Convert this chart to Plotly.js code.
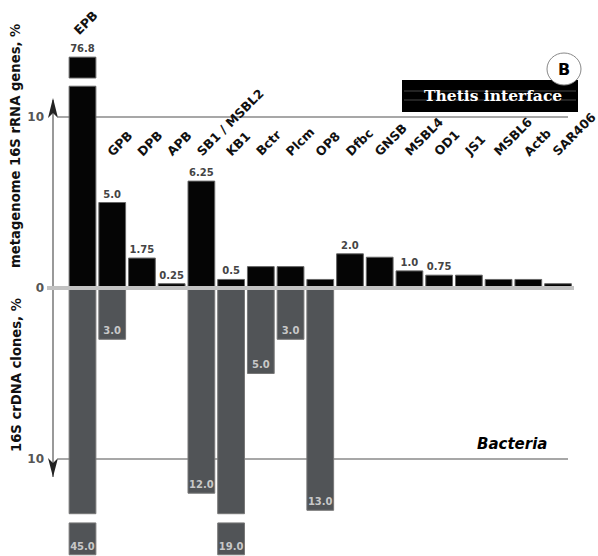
<!DOCTYPE html>
<html>
<head>
<meta charset="utf-8">
<script src="https://cdn.plot.ly/plotly-3.0.1.min.js"></script>
<style>html,body{margin:0;padding:0;background:#fff;}#chart{width:598px;height:556px;}</style>
</head>
<body>
<div id="chart"></div>
<script>
// ---- data ----
const categories = ['EPB','GPB','DPB','APB','SB1 / MSBL2','KB1','Bctr','Plcm','OP8','Dfbc','GNSB','MSBL4','OD1','JS1','MSBL6','Actb','SAR406'];
const metagenome = [76.8, 5.0, 1.75, 0.25, 6.25, 0.5, 1.25, 1.25, 0.5, 2.0, 1.8, 1.0, 0.75, 0.75, 0.5, 0.5, 0.25];
const clones = [45.0, 3.0, 0, 0, 12.0, 19.0, 5.0, 3.0, 13.0, 0, 0, 0, 0, 0, 0, 0, 0];
const metagenomeLabels = ['76.8','5.0','1.75','0.25','6.25','0.5','','','','2.0','','1.0','0.75','','','',''];
const clonesLabels = ['45.0','3.0','','','12.0','19.0','5.0','3.0','13.0','','','','','','','',''];
const yTickVals = [10, 0, -10];
const yTickText = ['10', '0', '10'];

// ---- broken-axis display (values beyond the limits are drawn cut) ----
const POS_LIMIT = 10, POS_MAIN = 11.8, POS_CAP = [12.28, 13.5];
const NEG_LIMIT = 15, NEG_MAIN = 13.2, NEG_CAP = [13.74, 15.6];

const posMain = metagenome.map(v => v > POS_LIMIT ? POS_MAIN : v);
const posMainText = metagenome.map((v, i) => v > POS_LIMIT ? '' : metagenomeLabels[i]);
const posCapBase = metagenome.map(v => v > POS_LIMIT ? POS_CAP[0] : null);
const posCap = metagenome.map(v => v > POS_LIMIT ? POS_CAP[1] - POS_CAP[0] : null);
const posCapText = metagenome.map((v, i) => v > POS_LIMIT ? metagenomeLabels[i] : '');

const negMain = clones.map(v => v > NEG_LIMIT ? -NEG_MAIN : (v ? -v : null));
const negMainText = clones.map((v, i) => v > NEG_LIMIT ? '' : clonesLabels[i]);
const negCapBase = clones.map(v => v > NEG_LIMIT ? -NEG_CAP[0] : null);
const negCap = clones.map(v => v > NEG_LIMIT ? -(NEG_CAP[1] - NEG_CAP[0]) : null);
const negCapText = clones.map((v, i) => v > NEG_LIMIT ? clonesLabels[i] : '');

const W = 598, H = 556;
const px = x => x / W;
const py = y => 1 - y / H;

const BLACK = '#050505', GREY = '#515457';
const valFont = {family: 'DejaVu Sans', size: 10, color: '#444', weight: 'bold'};
const inFont = {family: 'DejaVu Sans', size: 10, color: '#c8c8c8', weight: 'bold'};

const common = {type: 'bar', x: categories, width: 0.9, textangle: 0, constraintext: 'none', cliponaxis: false, hoverinfo: 'none'};

const traces = [
  Object.assign({}, common, {y: posMain, text: posMainText, textposition: 'outside', textfont: valFont,
    marker: {color: BLACK, line: {color: '#666', width: 1}}}),
  Object.assign({}, common, {y: posCap, base: posCapBase, text: posCapText, textposition: 'outside', textfont: valFont,
    marker: {color: BLACK, line: {color: '#666', width: 1}}}),
  Object.assign({}, common, {y: negMain, text: negMainText, textposition: 'inside', insidetextanchor: 'end', insidetextfont: inFont,
    marker: {color: GREY, line: {color: '#777', width: 1}}}),
  Object.assign({}, common, {y: negCap, base: negCapBase, text: negCapText, textposition: 'inside', insidetextanchor: 'end', insidetextfont: inFont,
    marker: {color: GREY, line: {color: '#777', width: 1}}})
];

const labFont = {family: 'DejaVu Sans', size: 12.5, color: '#111', weight: 'bold'};
const annotations = categories.map((c, i) => ({
  xref: 'x', yref: 'y', x: i === 0 ? -0.48 : i - 0.36, y: i === 0 ? 14.5 : 7.4,
  xanchor: 'left', yanchor: 'bottom', textangle: -45, showarrow: false,
  text: c, font: labFont
}));

const titleFont = {family: 'DejaVu Sans', size: 13.2, color: '#111', weight: 'bold'};
const paperNote = (x, y, text, font, angle) => ({xref: 'paper', yref: 'paper', x: px(x), y: py(y),
  xanchor: 'center', yanchor: 'middle', textangle: angle || 0, showarrow: false, text: text, font: font});
annotations.push(
  paperNote(16, 146, 'metagenome 16S rRNA genes, %', titleFont, -90),
  paperNote(16, 375, '16S crDNA clones, %', titleFont, -90),
  paperNote(493, 95, 'Thetis interface', {family: 'DejaVu Serif', size: 15.5, color: '#fff', weight: 'bold'}),
  paperNote(564, 69, 'B', {family: 'DejaVu Sans', size: 16, color: '#000', weight: 'bold'}),
  paperNote(512, 444, '<i>Bacteria</i>', {family: 'DejaVu Sans', size: 15, color: '#000', weight: 'bold'})
);

const pth = pts => 'M ' + pts.map(p => px(p[0]) + ',' + py(p[1])).join(' L ') + ' Z';

const shapes = [
  // gridlines at +10 and -10
  {type: 'line', xref: 'paper', yref: 'y', x0: px(58), x1: px(568), y0: 10, y1: 10, line: {color: '#8a8a8a', width: 1.5}, layer: 'below'},
  {type: 'line', xref: 'paper', yref: 'y', x0: px(58), x1: px(568), y0: -10, y1: -10, line: {color: '#8a8a8a', width: 1.5}, layer: 'below'},
  // vertical axis line
  {type: 'line', xref: 'paper', yref: 'paper', x0: px(53), x1: px(53), y0: py(100), y1: py(477), line: {color: '#777', width: 1.5}, layer: 'above'},
  // arrowheads
  {type: 'path', xref: 'paper', yref: 'paper', path: pth([[53, 98], [58, 118], [53, 113], [48, 118]]), fillcolor: '#222', line: {width: 0}},
  {type: 'path', xref: 'paper', yref: 'paper', path: pth([[53, 477], [58, 458], [53, 463], [48, 458]]), fillcolor: '#222', line: {width: 0}},
  // zero band
  {type: 'line', xref: 'paper', yref: 'y', x0: px(47), x1: px(574), y0: 0, y1: 0, line: {color: '#c2c2c2', width: 4}, layer: 'above'},
  // Thetis box
  {type: 'rect', xref: 'paper', yref: 'paper', x0: px(402), x1: px(578), y0: py(80), y1: py(112), fillcolor: '#000', line: {width: 0}, layer: 'above'},
  {type: 'line', xref: 'paper', yref: 'paper', x0: px(404), x1: px(576), y0: py(91), y1: py(91), line: {color: '#777', width: 1}, opacity: 0.6},
  {type: 'line', xref: 'paper', yref: 'paper', x0: px(404), x1: px(576), y0: py(100), y1: py(100), line: {color: '#777', width: 1}, opacity: 0.6},
  // B circle
  {type: 'circle', xref: 'paper', yref: 'paper', x0: px(547), x1: px(581), y0: py(53), y1: py(85), fillcolor: '#fff', line: {color: '#888', width: 1}, layer: 'above'}
];

const layout = {
  width: W, height: H,
  margin: {l: 0, r: 0, t: 0, b: 0},
  paper_bgcolor: '#fff', plot_bgcolor: '#fff',
  showlegend: false,
  barmode: 'overlay',
  font: {family: 'DejaVu Sans'},
  xaxis: {type: 'category', range: [-2.776, 17.345], showticklabels: false, showgrid: false, zeroline: false, showline: false, ticks: '', fixedrange: true},
  yaxis: {range: [-15.673, 16.842], anchor: 'free', position: px(53), showgrid: false, zeroline: false, showline: false, ticks: '',
    tickvals: yTickVals, ticktext: yTickText, ticklabelstandoff: 9,
    tickfont: {family: 'DejaVu Sans', size: 12, color: '#555', weight: 'bold'}, fixedrange: true},
  shapes: shapes,
  annotations: annotations
};

Plotly.newPlot('chart', traces, layout, {displayModeBar: false, staticPlot: true});
</script>
</body>
</html>
